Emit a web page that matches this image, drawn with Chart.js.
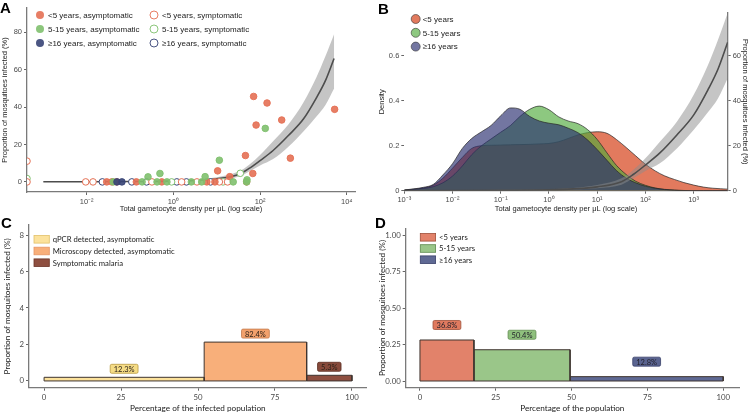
<!DOCTYPE html>
<html>
<head>
<meta charset="utf-8">
<title>Gametocyte density and mosquito infection</title>
<script src="https://cdn.jsdelivr.net/npm/chart.js@4.4.1/dist/chart.umd.min.js"></script>
<style>
  html, body { margin: 0; padding: 0; background: #fff; }
  #fig { position: relative; width: 750px; height: 413px; overflow: hidden; }
  #fig canvas { position: absolute; }
  .tag { position: absolute; font: bold 15px "Liberation Sans", Arial, sans-serif; line-height: 15px; color: #000; }
</style>
</head>
<body>
<div id="fig">
  <canvas id="panelA" width="375" height="213" style="left:0;top:0"></canvas>
  <canvas id="panelB" width="375" height="213" style="left:375px;top:0"></canvas>
  <canvas id="panelC" width="375" height="200" style="left:0;top:213px"></canvas>
  <canvas id="panelD" width="375" height="200" style="left:375px;top:213px"></canvas>
  <div class="tag" style="left:0;top:0">A</div>
  <div class="tag" style="left:378px;top:1px">B</div>
  <div class="tag" style="left:1px;top:215px">C</div>
  <div class="tag" style="left:375px;top:215px">D</div>
</div>
<script>
// ---- panel A : single feeds (x = gametocytes per uL, 0 = none, y = % mosquitoes infected)
const ageGroups = ['<5 years', '5-15 years', '≥16 years'];
const aXTicks = [0.01, 1, 100, 10000];
const aYTicks = [0, 20, 40, 60, 80];

const under5AsymX = [0.029, 0.038, 0.049, 0.14, 0.54, 5.9, 9.1, 49, 71, 145, 81, 316, 5250, 500, 46, 10.5, 68, 20];
const under5AsymY = [0, 0, 0, 0, 0, 0, 0, 0, 45.7, 42.2, 30.4, 33.1, 38.8, 12.7, 14.1, 5.9, 4.5, 2.8];
const under5SymX = [0, 0, 0.0095, 0.014, 0.32, 1.55, 3.5, 11.5, 17.8];
const under5SymY = [11.1, 0, 0, 0, 0, 0, 0, 0, 0];
const mid5to15AsymX = [0.041, 0.19, 0.42, 0.71, 2.6, 4.5, 24, 49, 132, 11.5, 0.49, 0.26, 5.4, 50];
const mid5to15AsymY = [0, 0, 0, 0, 0, 0, 0, 0, 28.6, 11.6, 4.5, 2.7, 2.8, 1.1];
const mid5to15SymX = [0, 0.91, 14, 35];
const mid5to15SymY = [1.8, 0, 0, 4.6];
const over16AsymX = [0.05, 0.065];
const over16AsymY = [0, 0];
const over16SymX = [0.023, 0.11, 0.24, 1.2, 2.0, 7.2];
const over16SymY = [0, 0, 0, 0, 0, 0];

// fitted curve with its confidence band (%)
const fitX = [0.001, 0.01, 0.1, 1, 3.2, 10, 32, 56, 100, 200, 450, 1000, 2000, 3200, 5100];
const fitMid = [0.05, 0.1, 0.2, 0.4, 0.8, 1.7, 4, 7.2, 11.4, 16.8, 24.8, 33.6, 45, 54, 66];
const fitLow = [0, 0.05, 0.1, 0.2, 0.5, 1.1, 2.7, 5.5, 8.8, 12.2, 18.8, 27, 35, 41, 50];
const fitHigh = [0.2, 0.3, 0.4, 0.7, 1.2, 2.5, 5.5, 9.2, 14.4, 21.8, 30.7, 42.5, 56, 67, 79];

// ---- panel B : density of gametocyte densities by age
const bXTicks = [0.001, 0.01, 0.1, 1, 10, 100, 1000];
const bYTicks = [0, 0.2, 0.4, 0.6];
const bY2Ticks = [0, 20, 40, 60];
const densX = [0.001, 0.0025, 0.004, 0.0063, 0.01, 0.016, 0.025, 0.04, 0.063, 0.1, 0.16, 0.25, 0.4, 0.63, 1,
  1.6, 2.5, 4, 6.3, 10, 16, 25, 40, 63, 100, 160, 250, 400, 630, 1000, 1600, 2500, 5100];
const densUnder5 = [0.003, 0.012, 0.025, 0.055, 0.1, 0.148, 0.188, 0.2, 0.202, 0.203, 0.204, 0.205, 0.206, 0.208, 0.21,
  0.218, 0.232, 0.248, 0.258, 0.262, 0.255, 0.228, 0.192, 0.155, 0.118, 0.088, 0.066, 0.05, 0.036, 0.025, 0.016, 0.011, 0.007];
const dens5to15 = [0.002, 0.01, 0.018, 0.035, 0.065, 0.11, 0.16, 0.2, 0.23, 0.26, 0.29, 0.33, 0.362, 0.376, 0.36,
  0.328, 0.31, 0.298, 0.272, 0.228, 0.168, 0.113, 0.072, 0.042, 0.024, 0.012, 0.006, 0.003, 0.001, 0, 0, 0, 0];
const densOver16 = [0.003, 0.015, 0.028, 0.07, 0.12, 0.188, 0.232, 0.262, 0.29, 0.333, 0.368, 0.362, 0.33, 0.31, 0.3,
  0.293, 0.278, 0.258, 0.226, 0.183, 0.135, 0.09, 0.056, 0.035, 0.02, 0.011, 0.005, 0.002, 0, 0, 0, 0, 0];

// ---- panel C : infected population by detection / symptoms
const cGroups = ['qPCR detected, asymptomatic', 'Microscopy detected, asymptomatic', 'Symptomatic malaria'];
const cPopShare = [52.0, 33.3, 14.7];
const cInfected = [0.2, 2.13, 0.31];
const cContribution = ['12.3%', '82.4%', '5.3%'];
const cXTicks = [0, 25, 50, 75, 100];
const cYTicks = [0, 2, 4, 6, 8];

// ---- panel D : population by age
const dPopShare = [17.8, 31.7, 50.5];
const dInfected = [0.282, 0.215, 0.03];
const dContribution = ['36.8%', '50.4%', '12.8%'];
const dXTicks = [0, 25, 50, 75, 100];
const dYTicks = [0, 0.25, 0.5, 0.75, 1];

// ---------- styling ----------
const FONT_AB = '"Liberation Sans", Arial, sans-serif';
const FONT_CD = 'Lato, "Open Sans", sans-serif';
const pointCols = ['rgba(228,112,84,0.9)', 'rgba(128,192,110,0.9)', 'rgba(55,68,118,0.9)'];
const densCols = ['rgba(221,99,66,0.85)', 'rgba(80,170,60,0.65)', 'rgba(40,45,110,0.65)'];
const cFills = ['#FCE29C', '#F8AF7A', '#8E4F40'];
const cLegendStroke = ['#E2C16A', '#E69463', '#6B3427'];
const cTagFill = ['#F5DC86', '#F2A16C', '#874A3B'];
const cTagStroke = ['#B9993F', '#C47B4C', '#5A2C20'];
const dFills = ['#E2826A', '#9AC689', '#5F6994'];
const dTagFill = ['#E07A5F', '#8FC07D', '#5A6490'];
const dTagStroke = ['#A0503A', '#5F8A4F', '#39406A'];

const SUP = { '-': '⁻', '0': '⁰', '1': '¹', '2': '²', '3': '³', '4': '⁴' };
function pow10Label(v) {
  const e = Math.round(Math.log10(v));
  return '10' + String(e).split('').map(c => SUP[c]).join('');
}

const A_X_MIN = 0.00042, A_X_MAX = 15500;

function pts(xs, ys, floor) {
  return xs.map((x, i) => ({ x: x > 0 ? x : floor, y: ys[i] }));
}

function axis(o) {
  const size = o.size || 7.5;
  return {
    type: o.type || 'linear',
    position: o.position,
    min: o.min, max: o.max,
    afterBuildTicks: s => { s.ticks = o.ticks.map(v => ({ value: v })); },
    afterFit: s => {
      if (o.width != null) s.width = o.width;
      if (o.height != null) s.height = o.height;
    },
    ticks: { callback: o.format || (v => String(v)), font: { family: o.family, size }, color: '#4a4a4a',
      padding: 2, maxRotation: 0, autoSkip: false },
    grid: { display: true, drawOnChartArea: false, drawTicks: true, tickLength: 3, color: '#666' },
    border: { display: o.line !== false, color: '#7a7a7a', width: 1.3 },
    title: { display: !!o.title, text: o.title, font: { family: o.family, size: o.titleSize || size }, color: '#222',
      padding: { top: o.titlePad || 0, bottom: 0 } }
  };
}

const base = {
  responsive: false, animation: false, devicePixelRatio: 1, events: [],
  plugins: { legend: { display: false }, tooltip: { enabled: false } }
};

function roundBox(ctx, x, y, w, h, r) {
  ctx.beginPath();
  ctx.moveTo(x + r, y);
  ctx.lineTo(x + w - r, y); ctx.quadraticCurveTo(x + w, y, x + w, y + r);
  ctx.lineTo(x + w, y + h - r); ctx.quadraticCurveTo(x + w, y + h, x + w - r, y + h);
  ctx.lineTo(x + r, y + h); ctx.quadraticCurveTo(x, y + h, x, y + h - r);
  ctx.lineTo(x, y + r); ctx.quadraticCurveTo(x, y, x + r, y);
  ctx.closePath();
}

// ---------- panel A ----------
function pointSet(xs, ys, row, open) {
  return {
    data: pts(xs, ys, A_X_MIN), order: open ? 2 : 1, clip: 0,
    pointRadius: 3.3, borderWidth: 1,
    backgroundColor: open ? '#fff' : pointCols[row],
    borderColor: open ? pointCols[row].replace('0.9)', '1)') : pointCols[row]
  };
}

const aLegend = {
  id: 'aLegend',
  afterDraw(chart) {
    const ctx = chart.ctx;
    ctx.save();
    ctx.font = '8px ' + FONT_AB;
    ctx.textBaseline = 'middle';
    ageGroups.forEach((g, row) => {
      ['asymptomatic', 'symptomatic'].forEach((s, col) => {
        const cx = col ? 154 : 40, cy = 15 + row * 14;
        ctx.beginPath();
        ctx.arc(cx, cy, 4, 0, Math.PI * 2);
        if (col) {
          ctx.fillStyle = '#fff'; ctx.fill();
          ctx.strokeStyle = pointCols[row]; ctx.lineWidth = 1; ctx.stroke();
        } else {
          ctx.fillStyle = pointCols[row]; ctx.fill();
        }
        ctx.fillStyle = '#222';
        ctx.fillText(g + ', ' + s, cx + 8, cy + 0.5);
      });
    });
    ctx.restore();
  }
};

new Chart(document.getElementById('panelA'), {
  type: 'scatter',
  data: {
    datasets: [
      { type: 'line', data: pts(fitX, fitHigh), fill: '+1', backgroundColor: 'rgba(140,140,140,0.5)',
        borderWidth: 0, pointRadius: 0, cubicInterpolationMode: 'monotone', order: 5 },
      { type: 'line', data: pts(fitX, fitLow), fill: false, borderWidth: 0, pointRadius: 0,
        cubicInterpolationMode: 'monotone', order: 5 },
      { type: 'line', data: pts(fitX, fitMid), fill: false, borderColor: '#4d4d4d', borderWidth: 1.6,
        pointRadius: 0, cubicInterpolationMode: 'monotone', order: 4 },
      pointSet(under5SymX, under5SymY, 0, true),
      pointSet(mid5to15SymX, mid5to15SymY, 1, true),
      pointSet(over16SymX, over16SymY, 2, true),
      pointSet(over16AsymX, over16AsymY, 2, false),
      pointSet(mid5to15AsymX, mid5to15AsymY, 1, false),
      pointSet(under5AsymX, under5AsymY, 0, false)
    ]
  },
  options: {
    ...base,
    layout: { padding: { left: 0, top: 8, right: 20, bottom: 0 } },
    scales: {
      x: axis({ type: 'logarithmic', min: A_X_MIN, max: A_X_MAX, ticks: aXTicks, format: pow10Label,
        family: FONT_AB, height: 21, title: 'Total gametocyte density per μL (log scale)' }),
      y: axis({ min: -5.4, max: 93, ticks: aYTicks, family: FONT_AB, width: 27,
        title: 'Proportion of mosquitoes infected (%)' })
    }
  },
  plugins: [aLegend]
});

// ---------- panel B ----------
function densSet(ys, row, order) {
  return { type: 'line', data: pts(densX, ys), yAxisID: 'y', fill: 'origin', backgroundColor: densCols[row],
    borderColor: '#262626', borderWidth: 0.7, pointRadius: 0, cubicInterpolationMode: 'monotone', order };
}

const bLegend = {
  id: 'bLegend',
  afterDraw(chart) {
    const ctx = chart.ctx;
    ctx.save();
    ctx.font = '8px ' + FONT_AB;
    ctx.textBaseline = 'middle';
    ageGroups.forEach((g, row) => {
      const cx = 40.7, cy = 19 + row * 13.8;
      ctx.beginPath();
      ctx.arc(cx, cy, 4.5, 0, Math.PI * 2);
      ctx.fillStyle = densCols[row]; ctx.fill();
      ctx.strokeStyle = '#333'; ctx.lineWidth = 0.6; ctx.stroke();
      ctx.fillStyle = '#222';
      ctx.fillText(g, cx + 7, cy + 0.5);
    });
    ctx.restore();
  }
};

new Chart(document.getElementById('panelB'), {
  type: 'scatter',
  data: {
    datasets: [
      densSet(densUnder5, 0, 9),
      densSet(dens5to15, 1, 8),
      densSet(densOver16, 2, 7),
      { type: 'line', data: pts(fitX, fitHigh), yAxisID: 'y2', fill: '+1', backgroundColor: 'rgba(140,140,140,0.5)',
        borderWidth: 0, pointRadius: 0, cubicInterpolationMode: 'monotone', order: 5 },
      { type: 'line', data: pts(fitX, fitLow), yAxisID: 'y2', fill: false, borderWidth: 0, pointRadius: 0,
        cubicInterpolationMode: 'monotone', order: 5 },
      { type: 'line', data: pts(fitX, fitMid), yAxisID: 'y2', fill: false, borderColor: '#4d4d4d',
        borderWidth: 1.6, pointRadius: 0, cubicInterpolationMode: 'monotone', order: 4 }
    ]
  },
  options: {
    ...base,
    layout: { padding: { left: 0, top: 13, right: 0, bottom: 0 } },
    scales: {
      x: axis({ type: 'logarithmic', min: 0.001, max: 5100, ticks: bXTicks, format: pow10Label,
        family: FONT_AB, height: 22.3, title: 'Total gametocyte density per μL (log scale)' }),
      y: axis({ position: 'left', min: 0, max: 0.79, ticks: bYTicks, family: FONT_AB, width: 29.3, line: false,
        format: v => (v === 0 ? '0' : v.toFixed(1)), title: 'Density', titlePad: 2 }),
      y2: axis({ position: 'right', min: 0, max: 79, ticks: bY2Ticks, family: FONT_AB, width: 22.3,
        title: 'Proportion of mosquitoes infected (%)' })
    }
  },
  plugins: [bLegend]
});

// ---------- panels C and D : variable width bars ----------
function barSets(shares, heights, fills) {
  let left = 0;
  return shares.map((w, i) => {
    const x0 = left, x1 = left + w;
    left = x1;
    const h = heights[i];
    return { type: 'line', data: [{ x: x0, y: 0 }, { x: x0, y: h }, { x: x1, y: h }, { x: x1, y: 0 }, { x: x0, y: 0 }],
      fill: 'shape', backgroundColor: fills[i], borderColor: '#3f3530', borderWidth: 1, tension: 0,
      borderJoinStyle: 'miter', pointRadius: 0 };
  });
}

function barTags(id, shares, heights, texts, fills, strokes, textCol, lift) {
  return {
    id,
    afterDatasetsDraw(chart) {
      const { ctx, scales: { x, y } } = chart;
      ctx.save();
      ctx.font = '7.5px ' + FONT_CD;
      ctx.textAlign = 'center';
      ctx.textBaseline = 'middle';
      let left = 0;
      texts.forEach((t, i) => {
        const mid = left + shares[i] / 2;
        left += shares[i];
        const px = x.getPixelForValue(mid);
        const py = y.getPixelForValue(heights[i]) - lift;
        const w = ctx.measureText(t).width + 7, h = 9;
        roundBox(ctx, px - w / 2, py - h / 2, w, h, 1.5);
        ctx.fillStyle = fills[i]; ctx.fill();
        ctx.strokeStyle = strokes[i]; ctx.lineWidth = 0.8; ctx.stroke();
        ctx.fillStyle = textCol; ctx.fillText(t, px, py + 0.5);
      });
      ctx.restore();
    }
  };
}

function boxLegend(id, labels, fills, strokes, x0, y0, step) {
  return {
    id,
    afterDraw(chart) {
      const ctx = chart.ctx;
      ctx.save();
      ctx.font = '7.7px ' + FONT_CD;
      ctx.textBaseline = 'middle';
      labels.forEach((l, i) => {
        const cy = y0 + i * step;
        ctx.fillStyle = fills[i];
        ctx.fillRect(x0, cy - 3.8, 15.3, 7.6);
        ctx.strokeStyle = strokes[i]; ctx.lineWidth = 0.8;
        ctx.strokeRect(x0, cy - 3.8, 15.3, 7.6);
        ctx.fillStyle = '#222';
        ctx.fillText(l, x0 + 18.7, cy + 0.5);
      });
      ctx.restore();
    }
  };
}

new Chart(document.getElementById('panelC'), {
  type: 'scatter',
  data: { datasets: barSets(cPopShare, cInfected, cFills) },
  options: {
    ...base,
    layout: { padding: { left: 0, top: 12, right: 8.3, bottom: 0 } },
    scales: {
      x: axis({ min: -4.9, max: 104.8, ticks: cXTicks, family: FONT_CD, height: 25.3, size: 7.8, titleSize: 8.2,
        title: 'Percentage of the infected population' }),
      y: axis({ min: -0.37, max: 8.55, ticks: cYTicks, family: FONT_CD, width: 29, size: 7.8, titleSize: 8.2,
        title: 'Proportion of mosquitoes infected (%)', titlePad: 2 })
    }
  },
  plugins: [
    barTags('cTags', cPopShare, cInfected, cContribution, cTagFill, cTagStroke, '#2b2118', 8.5),
    boxLegend('cLegend', cGroups, cFills, cLegendStroke, 34, 26.3, 11.7)
  ]
});

new Chart(document.getElementById('panelD'), {
  type: 'scatter',
  data: { datasets: barSets(dPopShare, dInfected, dFills) },
  options: {
    ...base,
    layout: { padding: { left: 0, top: 15.3, right: 11, bottom: 0 } },
    scales: {
      x: axis({ min: -4.7, max: 105.2, ticks: dXTicks, family: FONT_CD, height: 25.3, size: 7.8, titleSize: 8.2,
        title: 'Percentage of the population' }),
      y: axis({ min: -0.046, max: 1.05, ticks: dYTicks, family: FONT_CD, width: 30.7, size: 7.8, titleSize: 8.2,
        format: v => v.toFixed(2), title: 'Proportion of mosquitoes infected (%)', titlePad: 2 })
    }
  },
  plugins: [
    barTags('dTags', dPopShare, dInfected, dContribution, dTagFill, dTagStroke, '#22202a', 15),
    boxLegend('dLegend', ageGroups, dFills, dTagStroke, 45.3, 24.3, 11.2)
  ]
});
</script>
</body>
</html>
